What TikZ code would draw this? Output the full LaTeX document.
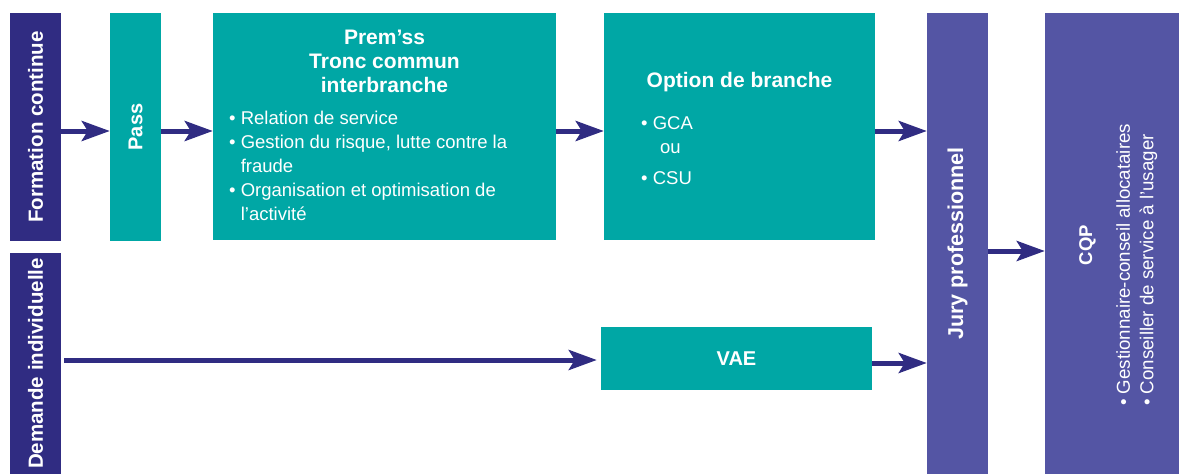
\documentclass[tikz,border=0pt]{standalone}
\usepackage{fontspec}
\setmainfont{Liberation Sans}
\usetikzlibrary{arrows.meta,positioning}

\definecolor{navy}{RGB}{48,44,130}
\definecolor{boxteal}{RGB}{0,167,165}
\definecolor{jurypurple}{RGB}{84,85,164}

\begin{document}
\begin{tikzpicture}[x=1pt,y=-1pt,
    navybox/.style={fill=navy, text=white, inner sep=0pt},
    tealbox/.style={fill=boxteal, text=white, inner sep=0pt},
    purplebox/.style={fill=jurypurple, text=white, inner sep=0pt},
    boxtext/.style={text=white, inner sep=0pt},
    flow/.style={draw=navy, line width=5pt, -{Stealth[length=28pt,width=20pt,inset=6pt]}},
  ]
  \useasboundingbox (0,0) rectangle (1179,474);

  \node[navybox, minimum width=51pt, minimum height=228pt, font=\bfseries\fontsize{20.5}{24}\selectfont] (form) at (35.5,127) {\rotatebox{90}{Formation continue}};
  \node[navybox, minimum width=51pt, minimum height=221pt, font=\bfseries\fontsize{20.5}{24}\selectfont] (dem) at (35.5,363.5) {\rotatebox{90}{Demande individuelle}};

  \node[tealbox, minimum width=51pt, minimum height=228pt, font=\bfseries\fontsize{20}{24}\selectfont] (pass) at (135.5,127) {\rotatebox{90}{Pass}};

  \node[tealbox, minimum width=343pt, minimum height=227pt] (prem) at (384.5,126.5) {};
  \node[boxtext, align=center, font=\bfseries\fontsize{21}{24}\selectfont] (premtitle) at (384.5,61.2) {Prem’ss\\Tronc commun\\interbranche};
  \node[boxtext, align=left, anchor=west, font=\fontsize{18.5}{24}\selectfont] (premlist) at (229,166)
    {• Relation de service\\• Gestion du risque, lutte contre la\\\hphantom{• }fraude\\• Organisation et optimisation de\\\hphantom{• }l’activité};

  \node[tealbox, minimum width=271pt, minimum height=227pt] (opt) at (739.5,126.5) {};
  \node[boxtext, anchor=base, font=\bfseries\fontsize{21}{24}\selectfont] (opttitle) at (739.5,87) {Option de branche};
  \node[boxtext, align=left, anchor=west, font=\fontsize{18.5}{24}\selectfont] (optlist) at (641,150.5)
    {• GCA\\\hspace*{19pt}ou\\[7pt]• CSU};

  \node[tealbox, minimum width=271pt, minimum height=63pt, font=\bfseries\fontsize{20}{24}\selectfont] (vae) at (736.5,358.5) {VAE};

  \node[purplebox, minimum width=61pt, minimum height=461pt, font=\bfseries\fontsize{21.5}{24}\selectfont] (jury) at (957.5,243.5) {\rotatebox{90}{Jury professionnel}};

  \node[purplebox, minimum width=134pt, minimum height=461pt] (cqp) at (1112,243.5) {};
  \node[boxtext, rotate=90, anchor=base, font=\bfseries\fontsize{18.5}{24}\selectfont] (cqptitle) at (1092,245) {CQP};
  \node[boxtext, rotate=90, align=left, anchor=west, font=\fontsize{18.7}{23.5}\selectfont] (cqplist) at (1136.7,406)
    {• Gestionnaire-conseil allocataires\\• Conseiller de service à l’usager};

  \coordinate (rowtop) at (0,131);
  \coordinate (rowjury) at (0,251);
  \coordinate (rowdem) at (0,360);
  \coordinate (rowvae) at (0,363);

  \draw[flow] (form.east |- rowtop) -- (pass.west |- rowtop);
  \draw[flow] (pass.east |- rowtop) -- (prem.west |- rowtop);
  \draw[flow] (prem.east |- rowtop) -- (opt.west |- rowtop);
  \draw[flow] (opt.east |- rowtop) -- (jury.west |- rowtop);
  \draw[flow, shorten <=3pt, shorten >=4pt] (dem.east |- rowdem) -- (vae.west |- rowdem);
  \draw[flow] (vae.east |- rowvae) -- (jury.west |- rowvae);
  \draw[flow] (jury.east |- rowjury) -- (cqp.west |- rowjury);
\end{tikzpicture}
\end{document}
